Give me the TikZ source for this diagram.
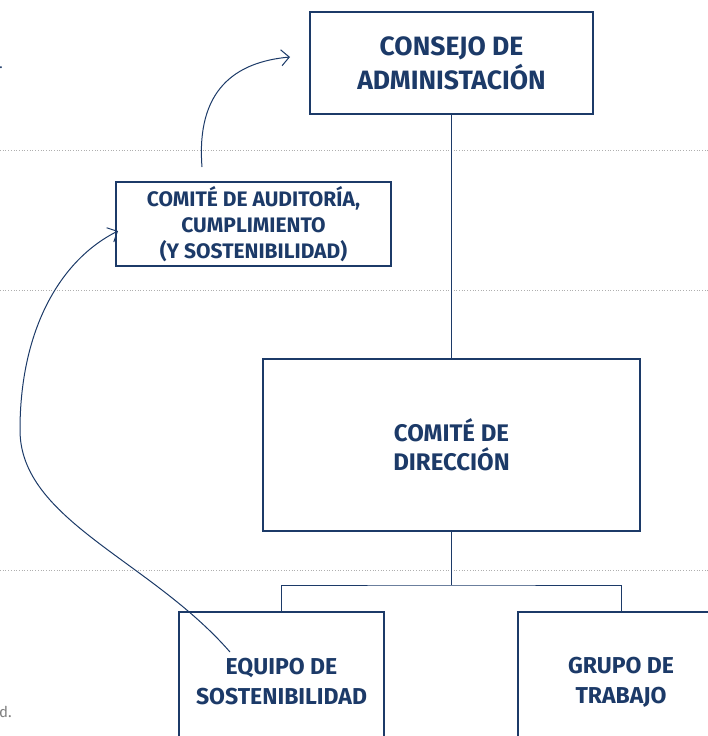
\documentclass[tikz,border=0pt]{standalone}
\usepackage{fontspec}
\setmainfont{Fira Sans}
\usetikzlibrary{arrows.meta}
\definecolor{navy}{RGB}{28,58,104}
\definecolor{rule}{RGB}{175,175,175}

\begin{document}
\begin{tikzpicture}[x=1pt,y=-1pt,
  box/.style={draw=navy, line width=1.2pt, align=center, text=navy, inner sep=0pt,
    font=\bfseries\fontsize{23}{30}\selectfont},
  bigbox/.style={box, font=\bfseries\fontsize{26.5}{34}\selectfont},
  smallbox/.style={box, font=\bfseries\fontsize{21}{26}\selectfont},
  link/.style={draw=navy, line width=1pt},
  curved/.style={draw=navy, line width=1pt, -{Straight Barb[length=8pt,width=16pt]}},
  dots/.style={draw=rule, line width=0.7pt, dash pattern=on 0.7pt off 2pt}]

\useasboundingbox (0,0) rectangle (708,736);
\clip (0,0) rectangle (708,736);

\draw[dots] (0,150) -- (708,150);
\draw[dots] (0,290) -- (708,290);
\draw[dots] (0,570) -- (708,570);

\node[bigbox, minimum width=283pt, minimum height=102pt] (consejo) at (451.5,63) {CONSEJO DE\\ADMINISTACIÓN};
\node[smallbox, minimum width=275pt, minimum height=84pt] (auditoria) at (253.5,224) {COMITÉ DE AUDITORÍA,\\CUMPLIMIENTO\\(Y SOSTENIBILIDAD)};
\node[box, font=\bfseries\fontsize{24}{29}\selectfont, minimum width=377pt, minimum height=172pt] (direccion) at (451.5,445) {COMITÉ DE\\DIRECCIÓN};
\node[box, minimum width=205pt, minimum height=140pt] (equipo) at (281.5,682) {EQUIPO DE\\SOSTENIBILIDAD};
\node[box, minimum width=206pt, minimum height=140pt] (grupo) at (621,682) {GRUPO DE\\TRABAJO};

\node[text=navy, font=\fontsize{14}{16}\selectfont, inner sep=0pt] (punto) at (1,68) {.};
\node[text=gray, font=\fontsize{15}{17}\selectfont, inner sep=0pt, anchor=west] (resto) at (-1,712) {d.};

\coordinate (fork) at (451.5,585);
\draw[link] (consejo) -- (direccion);
\draw[link] (direccion) -- (fork);
\draw[link] (equipo.north) |- (fork) -| (grupo.north);

\coordinate (salida1) at (202,167);
\coordinate (llegada1) at (290,57);
\draw[curved] (salida1) .. controls (196,90) and (235,62) .. (llegada1);

\coordinate (salida2) at (230,652);
\coordinate (giro2) at (20,430);
\coordinate (llegada2) at (118,231);
\draw[curved] (salida2) .. controls (150,560) and (20,520) .. (giro2)
  .. controls (20,330) and (60,260) .. (llegada2);

\end{tikzpicture}
\end{document}
